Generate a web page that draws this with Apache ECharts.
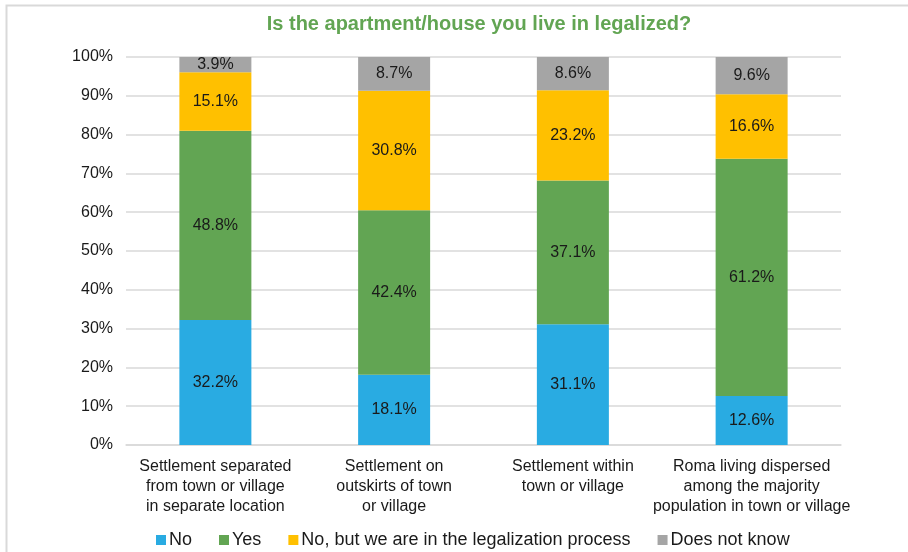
<!DOCTYPE html>
<html><head><meta charset="utf-8">
<script src="https://cdn.jsdelivr.net/npm/echarts@6/dist/echarts.min.js"></script>
<style>html,body{margin:0;padding:0;background:#fff}#c{width:908px;height:552px}</style>
</head><body><div id="c"></div>
<script>
const categories = [
  "Settlement separated\nfrom town or village\nin separate location",
  "Settlement on\noutskirts of town\nor village",
  "Settlement within\ntown or village",
  "Roma living dispersed\namong the majority\npopulation in town or village"
];
const seriesNames = ["No", "Yes", "No, but we are in the legalization process", "Does not know"];
const noVals = [32.2, 18.1, 31.1, 12.6];
const yesVals = [48.8, 42.4, 37.1, 61.2];
const processVals = [15.1, 30.8, 23.2, 16.6];
const dnkVals = [3.9, 8.7, 8.6, 9.6];
const colors = ["#29abe2", "#62a553", "#ffc000", "#a5a5a5"];
const font = "Liberation Sans, Arial, sans-serif";

const chart = echarts.init(document.getElementById('c'));
function mk(name, data, color) {
  return {
    name, type: 'bar', stack: 's', data, barWidth: 72,
    itemStyle: { color },
    label: { show: true, position: 'inside', formatter: p => p.value.toFixed(1) + '%',
      color: '#1a1a1a', fontSize: 16, fontFamily: font }
  };
}
chart.setOption({
  animation: false,
  title: { text: 'Is the apartment/house you live in legalized?', left: 474, top: 9, textAlign: 'center',
    textStyle: { color: '#62a553', fontSize: 20, fontWeight: 'bold', fontFamily: font } },
  graphic: [{ type: 'rect', shape: { x: 6.5, y: 5.5, width: 920, height: 560 },
    style: { fill: 'none', stroke: '#d9d9d9', lineWidth: 2 }, silent: true }],
  legend: { top: 526, left: 151, itemWidth: 10, itemHeight: 10, itemGap: 27, icon: 'rect',
    textStyle: { fontSize: 18, color: '#1a1a1a', fontFamily: font, padding: [0, 0, 0, -2] } },
  grid: { left: 126, right: 67, top: 57, bottom: 107 },
  xAxis: { type: 'category', data: categories,
    axisLine: { lineStyle: { color: '#d9d9d9', width: 1.5 } }, axisTick: { show: false },
    axisLabel: { color: '#1a1a1a', fontSize: 16, fontFamily: font, lineHeight: 20, margin: 12, interval: 0 } },
  yAxis: { type: 'value', min: 0, max: 100, interval: 10,
    axisLabel: { formatter: '{value}%', color: '#1a1a1a', fontSize: 16, fontFamily: font, margin: 13 },
    splitLine: { lineStyle: { color: '#d9d9d9', width: 1.5 } }, axisLine: { show: false }, axisTick: { show: false } },
  series: [
    mk(seriesNames[0], noVals, colors[0]),
    mk(seriesNames[1], yesVals, colors[1]),
    mk(seriesNames[2], processVals, colors[2]),
    mk(seriesNames[3], dnkVals, colors[3])
  ]
});
</script></body></html>
